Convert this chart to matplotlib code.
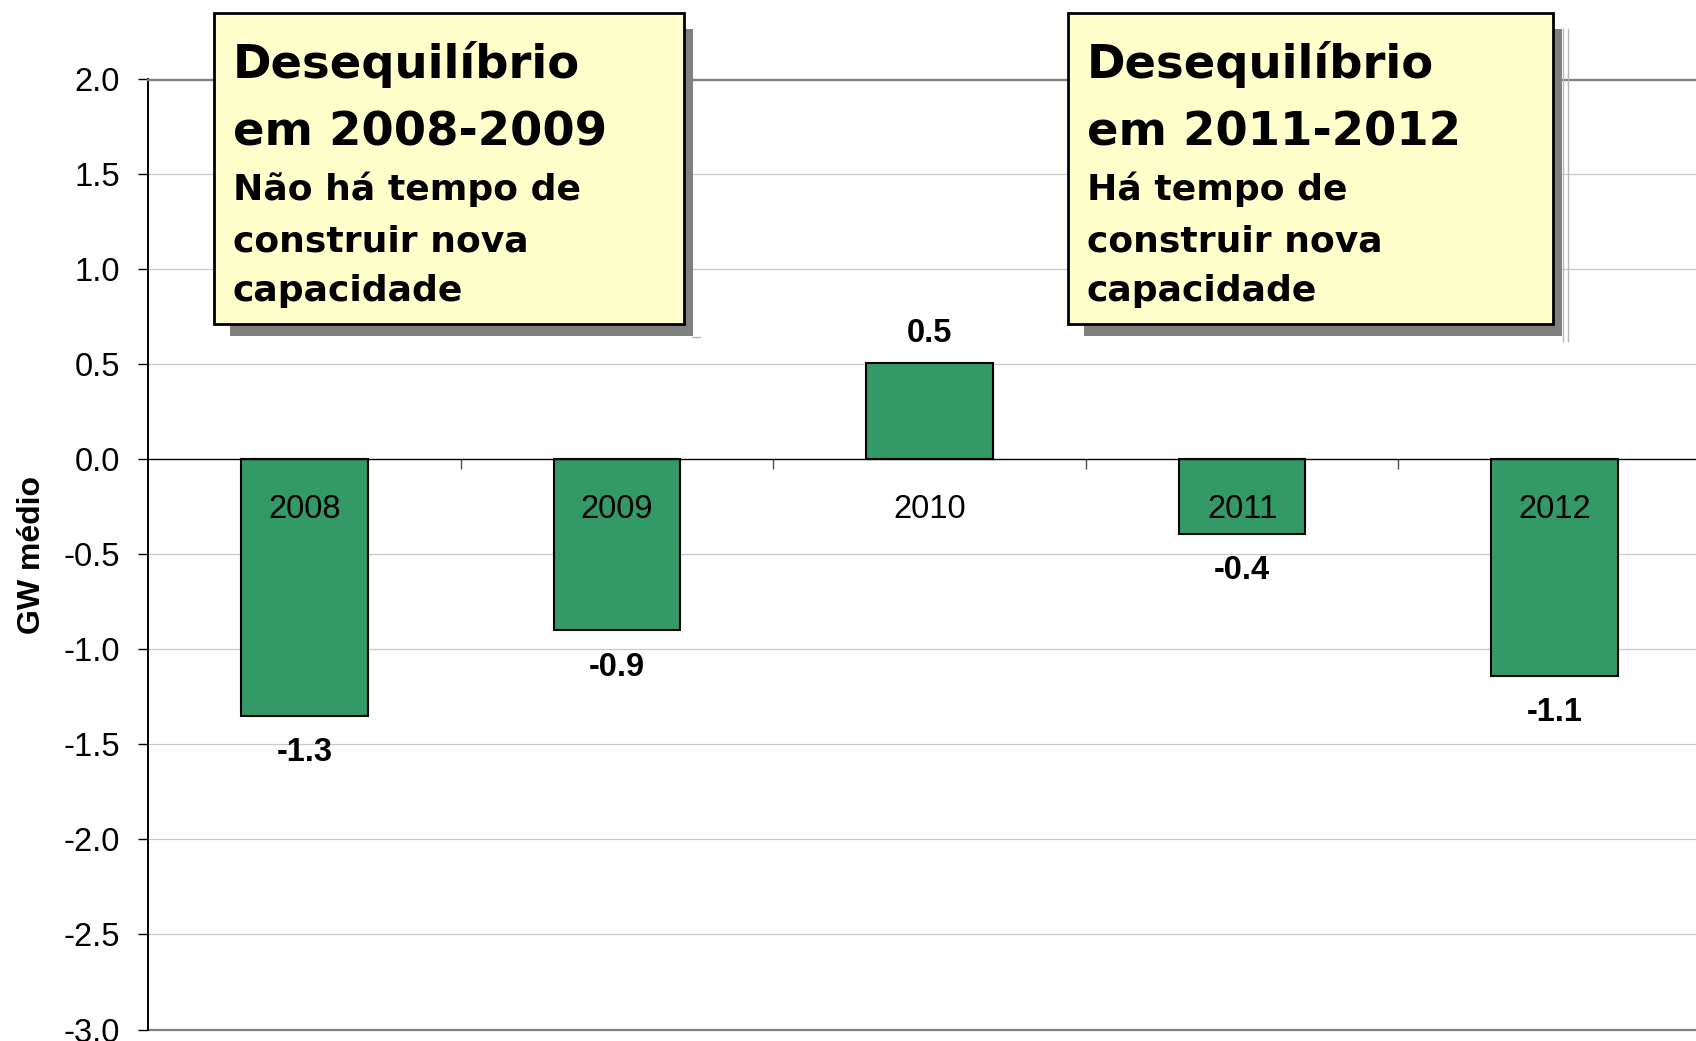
import numpy as np
import matplotlib
matplotlib.use("Agg")
import matplotlib.pyplot as plt
from matplotlib.patches import Rectangle
from matplotlib.lines import Line2D
from matplotlib.ticker import FormatStrFormatter, FixedLocator

# ---------------- data ----------------
years = ["2008", "2009", "2010", "2011", "2012"]
values = [-1.35, -0.90, 0.51, -0.39, -1.14]
value_labels = ["-1.3", "-0.9", "0.5", "-0.4", "-1.1"]
y_ticks = [-3.0, -2.5, -2.0, -1.5, -1.0, -0.5, 0.0, 0.5, 1.0, 1.5, 2.0]
y_label = "GW médio"
box1_title = ["Desequilíbrio", "em 2008-2009"]
box1_body = ["Não há tempo de", "construir nova", "capacidade"]
box2_title = ["Desequilíbrio", "em 2011-2012"]
box2_body = ["Há tempo de", "construir nova", "capacidade"]

# ---------------- style ----------------
plt.rcParams["font.family"] = ["Liberation Sans", "DejaVu Sans"]
plt.rcParams["axes.unicode_minus"] = False

W, H = 1696, 1041
fig = plt.figure(figsize=(W / 100, H / 100), dpi=100)
fig.patch.set_facecolor("white")

def fx(px):
    return px / W

def fy(py):
    return 1 - py / H

ax_left, ax_top, ax_bottom = 148, 79.5, 1029.5
cat_w = 312.6
ax = fig.add_axes([fx(ax_left), fy(ax_bottom), 5 * cat_w / W, (ax_bottom - ax_top) / H])

x = np.arange(len(years))
ax.bar(x, values, width=0.405, color="#339966", edgecolor="black", linewidth=1.5, zorder=1)

ax.set_xlim(-0.5, len(years) - 0.5)
ax.set_ylim(min(y_ticks), max(y_ticks))

# gridlines (behind bars)
for t in y_ticks:
    if t in (0.0, max(y_ticks), min(y_ticks)):
        continue
    ax.axhline(t, color="#c8c8c8", linewidth=0.9, zorder=0.5)
ax.axhline(min(y_ticks), color="#808080", linewidth=1.6, zorder=0.6, clip_on=False)

# spines
ax.spines["right"].set_visible(False)
ax.spines["top"].set_color("#808080")
ax.spines["top"].set_linewidth(1.7)
ax.spines["left"].set_color("black")
ax.spines["left"].set_linewidth(1.4)
ax.spines["bottom"].set_position(("data", 0))
ax.spines["bottom"].set_color("black")
ax.spines["bottom"].set_linewidth(1.0)

# y axis
ax.yaxis.set_major_locator(FixedLocator(y_ticks))
ax.yaxis.set_major_formatter(FormatStrFormatter("%.1f"))
ax.tick_params(axis="y", which="major", length=7.2, width=1.0, color="black",
               pad=13, labelsize=23.5, labelcolor="black", direction="out")

# x axis: labels at centers, ticks at boundaries
ax.set_xticks(x)
ax.set_xticklabels(years)
ax.set_xticks(np.arange(len(years) - 1) + 0.5, minor=True)
ax.tick_params(axis="x", which="major", length=0, pad=25, labelsize=23.5, labelcolor="black")
ax.tick_params(axis="x", which="minor", length=7.2, width=1.0, color="#505050", direction="out")

# value labels
for xi, v, lab in zip(x, values, value_labels):
    off = 15 if v >= 0 else -32.5
    ax.annotate(lab, xy=(xi, v), xytext=(0, off), textcoords="offset points",
                ha="center", va="baseline", fontsize=23.5, fontweight="bold", color="black")

# y label
fig.text(fx(32), fy(554.5), y_label, rotation=90, ha="center", va="center",
         fontsize=23, fontweight="bold", color="black")

# ---------------- annotation boxes ----------------
def draw_box(left, top, right, bottom, title, body, text_x):
    shadow = Rectangle((fx(left + 16), fy(bottom + 12)), (right + 9 - left - 16) / W,
                       (bottom + 12 - top - 16) / H, transform=fig.transFigure,
                       facecolor="#808080", edgecolor="none", zorder=10)
    fig.add_artist(shadow)
    box = Rectangle((fx(left), fy(bottom)), (right - left) / W, (bottom - top) / H,
                    transform=fig.transFigure, facecolor="#FFFFCC", edgecolor="black",
                    linewidth=2.0, zorder=11)
    fig.add_artist(box)
    title_base = [78, 146]
    body_base = [200, 251, 301]
    for line, yb in zip(title, title_base):
        fig.text(fx(text_x), fy(yb), line, ha="left", va="baseline", fontsize=33.5,
                 fontweight="bold", family="DejaVu Sans", color="black", zorder=12)
    for line, yb in zip(body, body_base):
        fig.text(fx(text_x), fy(yb), line, ha="left", va="baseline", fontsize=26,
                 fontweight="bold", family="DejaVu Sans", color="black", zorder=12)

draw_box(214, 13, 684, 324, box1_title, box1_body, 233)
draw_box(1068, 13, 1553, 324, box2_title, box2_body, 1087)

# faint artifact lines near the boxes' shadows
for xp in (1563, 1568):
    fig.add_artist(Line2D([fx(xp), fx(xp)], [fy(29), fy(341)], transform=fig.transFigure,
                          color="#b8b8b8", linewidth=1.0, zorder=9))
fig.add_artist(Line2D([fx(692), fx(700)], [fy(336.5), fy(336.5)], transform=fig.transFigure,
                      color="#b8b8b8", linewidth=1.0, zorder=9))

fig.savefig("out.png", dpi=100, facecolor="white")
